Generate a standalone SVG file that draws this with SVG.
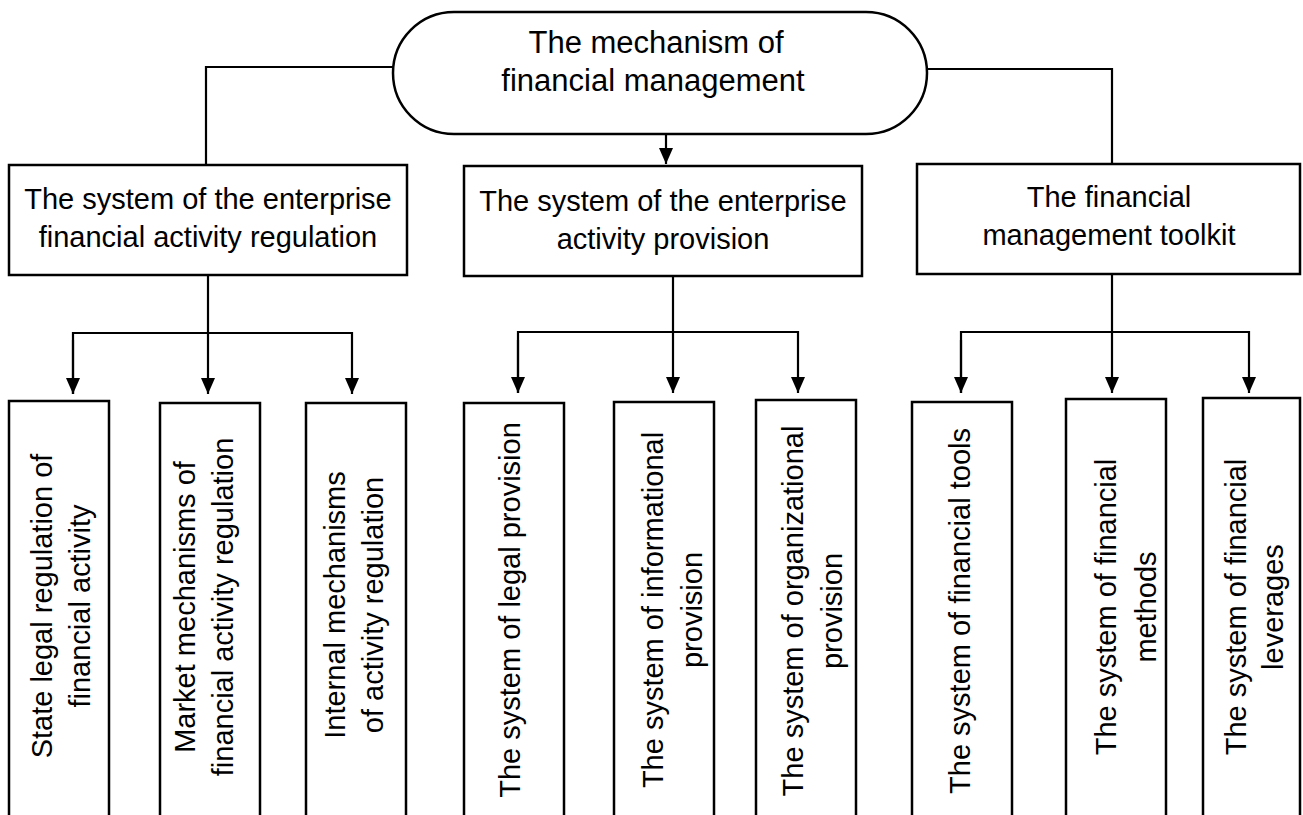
<svg xmlns="http://www.w3.org/2000/svg" width="1303" height="815" viewBox="0 0 1303 815">
<style>
.box{fill:#fff;stroke:#000;stroke-width:2.5}
.ln{fill:none;stroke:#000;stroke-width:2.2}
text{font-family:"Liberation Sans",Arial,sans-serif;font-size:29px;fill:#000;text-anchor:middle}
.title{font-size:31px}
</style>
<defs>
<marker id="arr" markerUnits="userSpaceOnUse" markerWidth="18" markerHeight="16" viewBox="0 -8 17 16" refX="16" refY="0" orient="auto">
<path d="M0,-7 L16,0 L0,7 z" fill="#000"/>
</marker>
</defs>
<rect width="1303" height="815" fill="#fff"/>
<g id="connectors">
<polyline class="ln" points="393,67 206,67 206,165"/>
<polyline class="ln" points="927,69 1112,69 1112,164"/>
<line class="ln" x1="666" y1="134" x2="666" y2="164" marker-end="url(#arr)"/>
<line class="ln" x1="208" y1="276" x2="208" y2="394" marker-end="url(#arr)"/>
<polyline class="ln" points="73,394 73,333 352,333 352,394" marker-end="url(#arr)"/>
<line class="ln" x1="73" y1="340" x2="73" y2="394" marker-end="url(#arr)"/>
<line class="ln" x1="673" y1="276" x2="673" y2="393" marker-end="url(#arr)"/>
<polyline class="ln" points="518,393 518,332 798,332 798,393" marker-end="url(#arr)"/>
<line class="ln" x1="518" y1="340" x2="518" y2="393" marker-end="url(#arr)"/>
<line class="ln" x1="1112" y1="274" x2="1112" y2="393" marker-end="url(#arr)"/>
<polyline class="ln" points="961,393 961,332 1249,332 1249,393" marker-end="url(#arr)"/>
<line class="ln" x1="961" y1="340" x2="961" y2="393" marker-end="url(#arr)"/>
</g>
<g id="root">
<rect class="box" x="393" y="12" width="534" height="122" rx="61"/>
<text class="title" x="656" y="53">The mechanism of</text>
<text class="title" x="653" y="91">financial management</text>
</g>
<g id="reg">
<rect class="box" x="9" y="165" width="398" height="110"/>
<text x="208" y="209">The system of the enterprise</text>
<text x="208" y="247">financial activity regulation</text>
</g>
<g id="prov">
<rect class="box" x="464" y="166" width="398" height="110"/>
<text x="663" y="211">The system of the enterprise</text>
<text x="663" y="249">activity provision</text>
</g>
<g id="toolkit">
<rect class="box" x="917" y="164" width="383" height="110"/>
<text x="1109" y="207">The financial</text>
<text x="1109" y="245">management toolkit</text>
</g>
<g id="a">
<rect class="box" x="9" y="401" width="100" height="430"/>
<text transform="translate(52,606) rotate(-90)">State legal regulation of</text>
<text transform="translate(90,606) rotate(-90)">financial activity</text>
</g>
<g id="b">
<rect class="box" x="160" y="403" width="100" height="430"/>
<text transform="translate(195,607) rotate(-90)">Market mechanisms of</text>
<text transform="translate(233,607) rotate(-90)">financial activity regulation</text>
</g>
<g id="c">
<rect class="box" x="306" y="403" width="100" height="430"/>
<text transform="translate(345,605) rotate(-90)">Internal mechanisms</text>
<text transform="translate(383,605) rotate(-90)">of activity regulation</text>
</g>
<g id="d">
<rect class="box" x="464" y="403" width="100" height="430"/>
<text transform="translate(520,610) rotate(-90)">The system of legal provision</text>
</g>
<g id="e">
<rect class="box" x="614" y="402" width="100" height="430"/>
<text transform="translate(663,610) rotate(-90)">The system of informational</text>
<text transform="translate(702,610) rotate(-90)">provision</text>
</g>
<g id="f">
<rect class="box" x="756" y="400" width="100" height="430"/>
<text transform="translate(803,611) rotate(-90)">The system of organizational</text>
<text transform="translate(842,611) rotate(-90)">provision</text>
</g>
<g id="g">
<rect class="box" x="912" y="402" width="100" height="430"/>
<text transform="translate(970,611) rotate(-90)">The system of financial tools</text>
</g>
<g id="h">
<rect class="box" x="1066" y="399" width="100" height="430"/>
<text transform="translate(1116,607) rotate(-90)">The system of financial</text>
<text transform="translate(1156,607) rotate(-90)">methods</text>
</g>
<g id="i">
<rect class="box" x="1203" y="398" width="97" height="430"/>
<text transform="translate(1246,607) rotate(-90)">The system of financial</text>
<text transform="translate(1283,607) rotate(-90)">leverages</text>
</g>
</svg>
